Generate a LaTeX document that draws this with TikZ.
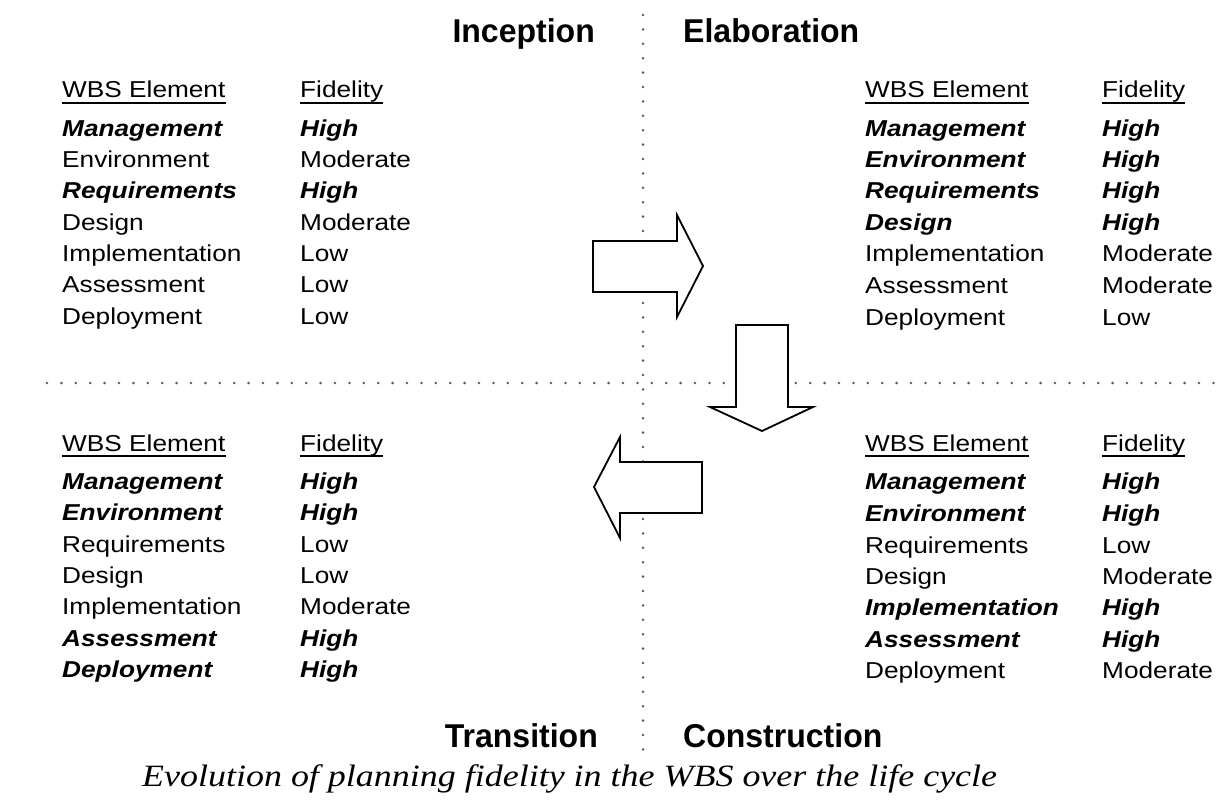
\documentclass[tikz,border=0pt]{standalone}
\usepackage{fontspec}
\newfontfamily\tabfont{Liberation Sans}[FakeStretch=1.14]
\newfontfamily\titfont{Liberation Sans}[FakeStretch=0.97]
\newfontfamily\capfont{Liberation Serif}[FakeStretch=1.16]
\tikzset{
  cellN/.style={anchor=base west, inner sep=0pt, font=\tabfont\fontsize{23}{23}\selectfont},
  cellH/.style={anchor=base west, inner sep=0pt, font=\tabfont\fontsize{23}{23}\selectfont\bfseries\itshape},
  hdr/.style={anchor=base west, inner sep=0pt, font=\tabfont\fontsize{23}{23}\selectfont},
  uline/.style={line width=1.6pt},
  phase/.style={inner sep=0pt, font=\titfont\fontsize{33}{33}\selectfont\bfseries},
  dots/.style={line width=2.8pt, line cap=round, dash pattern=on 0pt off 14.4pt, black!65},
  bigarrow/.style={draw=black, fill=white, line width=1.8pt, line join=miter},
}
\begin{document}
\begin{tikzpicture}[x=1pt,y=-1pt]
\useasboundingbox (0,0) rectangle (1221,800);
% dotted separators
\coordinate (vt) at (643,15);
\coordinate (vb) at (643,755);
\coordinate (hl) at (47,383);
\coordinate (hr) at (1221,383);
\draw[dots] (vt) -- (vb);
\draw[dots] (hl) -- (hr);
% phase titles
\node[phase, anchor=base east] (inc) at (595,43) {Inception};
\node[phase, anchor=base west] (ela) at (683,43) {Elaboration};
\node[phase, anchor=base east] (tra) at (598,747) {Transition};
\node[phase, anchor=base west] (con) at (683,747) {Construction};
% ---------- top-left: Inception
\node[hdr] (tlh1) at (62,98) {WBS Element};
\node[hdr] (tlh2) at (300,98) {Fidelity};
\draw[uline] ([yshift=-5pt]tlh1.base west) -- ([yshift=-5pt]tlh1.base east);
\draw[uline] ([yshift=-5pt]tlh2.base west) -- ([yshift=-5pt]tlh2.base east);
\node[cellH] (tla1) at (62,136) {Management};      \node[cellH] (tlb1) at (300,136) {High};
\node[cellN] (tla2) at (62,167) {Environment};     \node[cellN] (tlb2) at (300,167) {Moderate};
\node[cellH] (tla3) at (62,198) {Requirements};    \node[cellH] (tlb3) at (300,198) {High};
\node[cellN] (tla4) at (62,230) {Design};          \node[cellN] (tlb4) at (300,230) {Moderate};
\node[cellN] (tla5) at (62,261) {Implementation};  \node[cellN] (tlb5) at (300,261) {Low};
\node[cellN] (tla6) at (62,292) {Assessment};      \node[cellN] (tlb6) at (300,292) {Low};
\node[cellN] (tla7) at (62,324) {Deployment};      \node[cellN] (tlb7) at (300,324) {Low};
% ---------- top-right: Elaboration
\node[hdr] (trh1) at (865,98) {WBS Element};
\node[hdr] (trh2) at (1102,98) {Fidelity};
\draw[uline] ([yshift=-5pt]trh1.base west) -- ([yshift=-5pt]trh1.base east);
\draw[uline] ([yshift=-5pt]trh2.base west) -- ([yshift=-5pt]trh2.base east);
\node[cellH] (tra1) at (865,136) {Management};      \node[cellH] (trb1) at (1102,136) {High};
\node[cellH] (tra2) at (865,167) {Environment};     \node[cellH] (trb2) at (1102,167) {High};
\node[cellH] (tra3) at (865,198) {Requirements};    \node[cellH] (trb3) at (1102,198) {High};
\node[cellH] (tra4) at (865,230) {Design};          \node[cellH] (trb4) at (1102,230) {High};
\node[cellN] (tra5) at (865,261) {Implementation};  \node[cellN] (trb5) at (1102,261) {Moderate};
\node[cellN] (tra6) at (865,293) {Assessment};      \node[cellN] (trb6) at (1102,293) {Moderate};
\node[cellN] (tra7) at (865,325) {Deployment};      \node[cellN] (trb7) at (1102,325) {Low};
% ---------- bottom-left: Transition
\node[hdr] (blh1) at (62,451) {WBS Element};
\node[hdr] (blh2) at (300,451) {Fidelity};
\draw[uline] ([yshift=-5pt]blh1.base west) -- ([yshift=-5pt]blh1.base east);
\draw[uline] ([yshift=-5pt]blh2.base west) -- ([yshift=-5pt]blh2.base east);
\node[cellH] (bla1) at (62,489) {Management};      \node[cellH] (blb1) at (300,489) {High};
\node[cellH] (bla2) at (62,520) {Environment};     \node[cellH] (blb2) at (300,520) {High};
\node[cellN] (bla3) at (62,552) {Requirements};    \node[cellN] (blb3) at (300,552) {Low};
\node[cellN] (bla4) at (62,583) {Design};          \node[cellN] (blb4) at (300,583) {Low};
\node[cellN] (bla5) at (62,614) {Implementation};  \node[cellN] (blb5) at (300,614) {Moderate};
\node[cellH] (bla6) at (62,646) {Assessment};      \node[cellH] (blb6) at (300,646) {High};
\node[cellH] (bla7) at (62,677) {Deployment};      \node[cellH] (blb7) at (300,677) {High};
% ---------- bottom-right: Construction
\node[hdr] (brh1) at (865,451) {WBS Element};
\node[hdr] (brh2) at (1102,451) {Fidelity};
\draw[uline] ([yshift=-5pt]brh1.base west) -- ([yshift=-5pt]brh1.base east);
\draw[uline] ([yshift=-5pt]brh2.base west) -- ([yshift=-5pt]brh2.base east);
\node[cellH] (bra1) at (865,489) {Management};      \node[cellH] (brb1) at (1102,489) {High};
\node[cellH] (bra2) at (865,521) {Environment};     \node[cellH] (brb2) at (1102,521) {High};
\node[cellN] (bra3) at (865,553) {Requirements};    \node[cellN] (brb3) at (1102,553) {Low};
\node[cellN] (bra4) at (865,584) {Design};          \node[cellN] (brb4) at (1102,584) {Moderate};
\node[cellH] (bra5) at (865,615) {Implementation};  \node[cellH] (brb5) at (1102,615) {High};
\node[cellH] (bra6) at (865,647) {Assessment};      \node[cellH] (brb6) at (1102,647) {High};
\node[cellN] (bra7) at (865,678) {Deployment};      \node[cellN] (brb7) at (1102,678) {Moderate};
% ---------- block arrows
\draw[bigarrow] (593,241) -- (677,241) -- (677,215) -- (703,266) -- (677,317) -- (677,292) -- (593,292) -- cycle;
\draw[bigarrow] (736,325) -- (788,325) -- (788,407) -- (813,407) -- (762,431) -- (710,407) -- (736,407) -- cycle;
\draw[bigarrow] (702,462) -- (620,462) -- (620,437) -- (594,487) -- (620,538) -- (620,513) -- (702,513) -- cycle;
% ---------- caption
\node[anchor=base west, inner sep=0pt, font=\capfont\itshape\fontsize{31}{31}\selectfont] (cap) at (142,786) {Evolution of planning fidelity in the WBS over the life cycle};
\end{tikzpicture}
\end{document}
